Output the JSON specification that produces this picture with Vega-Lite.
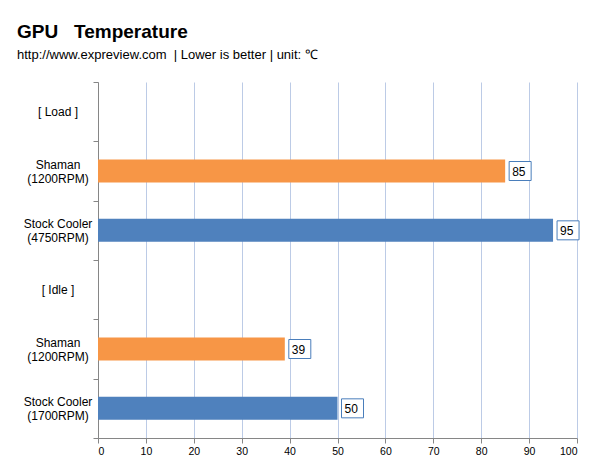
{
  "$schema": "https://vega.github.io/schema/vega-lite/v6.json",
  "width": 479,
  "height": 356,
  "autosize": {"type": "none"},
  "padding": {"left": 98, "top": 82, "right": 24, "bottom": 30},
  "background": "white",
  "title": {
    "text": "GPU\u00a0\u00a0\u00a0Temperature",
    "subtitle": "http://www.expreview.com\u00a0\u00a0| Lower is better | unit: ℃",
    "anchor": "start",
    "frame": "group",
    "dx": -81,
    "offset": 14,
    "font": "Liberation Sans",
    "fontSize": 19,
    "fontWeight": "bold",
    "color": "black",
    "subtitleFont": "Liberation Sans",
    "subtitleFontSize": 13,
    "subtitleColor": "black",
    "subtitlePadding": 7
  },
  "data": {
    "values": [
      {"cat": "a|[ Load ]", "value": null, "series": null},
      {"cat": "b|Shaman|(1200RPM)", "value": 85, "series": "Shaman"},
      {"cat": "c|Stock Cooler|(4750RPM)", "value": 95, "series": "Stock"},
      {"cat": "d|[ Idle ]", "value": null, "series": null},
      {"cat": "e|Shaman|(1200RPM)", "value": 39, "series": "Shaman"},
      {"cat": "f|Stock Cooler|(1700RPM)", "value": 50, "series": "Stock"}
    ]
  },
  "encoding": {
    "y": {
      "field": "cat",
      "type": "nominal",
      "sort": null,
      "title": null,
      "scale": {
        "domain": ["a|[ Load ]", "b|Shaman|(1200RPM)", "c|Stock Cooler|(4750RPM)", "d|[ Idle ]", "e|Shaman|(1200RPM)", "f|Stock Cooler|(1700RPM)"],
        "paddingInner": 0,
        "paddingOuter": 0
      },
      "axis": {
        "labelExpr": "slice(split(datum.value, '|'), 1)",
        "labelAlign": "center",
        "labelBaseline": "middle",
        "labelPadding": 35.5,
        "labelOffset": {
          "condition": {"test": "length(split(datum.value, '|')) > 2", "value": -6.5},
          "value": 0
        },
        "labelFont": "Liberation Sans",
        "labelFontSize": 12,
        "labelColor": "black",
        "labelLineHeight": 13.5,
        "tickBand": "extent",
        "tickSize": 5,
        "tickColor": "#868686",
        "domainColor": "#868686",
        "grid": false,
        "encode": {
          "labels": {
            "dx": {
              "condition": [
                {"test": "indexof(datum.value, 'Load') >= 0", "value": 10},
                {"test": "indexof(datum.value, 'Idle') >= 0", "value": 13},
                {"test": "indexof(datum.value, 'Stock') >= 0", "value": -4}
              ],
              "value": 0
            }
          }
        }
      }
    }
  },
  "layer": [
    {
      "mark": {"type": "bar", "size": 23},
      "encoding": {
        "x": {
          "field": "value",
          "type": "quantitative",
          "title": null,
          "scale": {"domain": [0, 100], "nice": false},
          "axis": {
            "values": [0, 10, 20, 30, 40, 50, 60, 70, 80, 90, 100],
            "grid": true,
            "gridColor": "#BCCBE6",
            "gridWidth": 1,
            "tickSize": 5,
            "tickColor": "#868686",
            "domainColor": "#868686",
            "labelFont": "Liberation Sans",
            "labelFontSize": 10.5,
            "labelColor": "black",
            "labelPadding": 3
          }
        },
        "color": {
          "field": "series",
          "type": "nominal",
          "legend": null,
          "scale": {"domain": ["Shaman", "Stock"], "range": ["#F79646", "#4F81BD"]}
        }
      }
    },
    {
      "mark": {"type": "bar", "size": 19, "fill": "white", "stroke": "#4A7EBB", "strokeWidth": 1, "xOffset": 4, "x2Offset": 26},
      "encoding": {
        "x": {"field": "value", "type": "quantitative"},
        "x2": {"field": "value"}
      }
    },
    {
      "mark": {"type": "text", "align": "left", "baseline": "middle", "dx": 7, "dy": 1, "font": "Liberation Sans", "fontSize": 12, "color": "black"},
      "encoding": {
        "x": {"field": "value", "type": "quantitative"},
        "text": {"field": "value", "type": "quantitative"}
      }
    }
  ],
  "config": {
    "view": {"stroke": null}
  }
}
